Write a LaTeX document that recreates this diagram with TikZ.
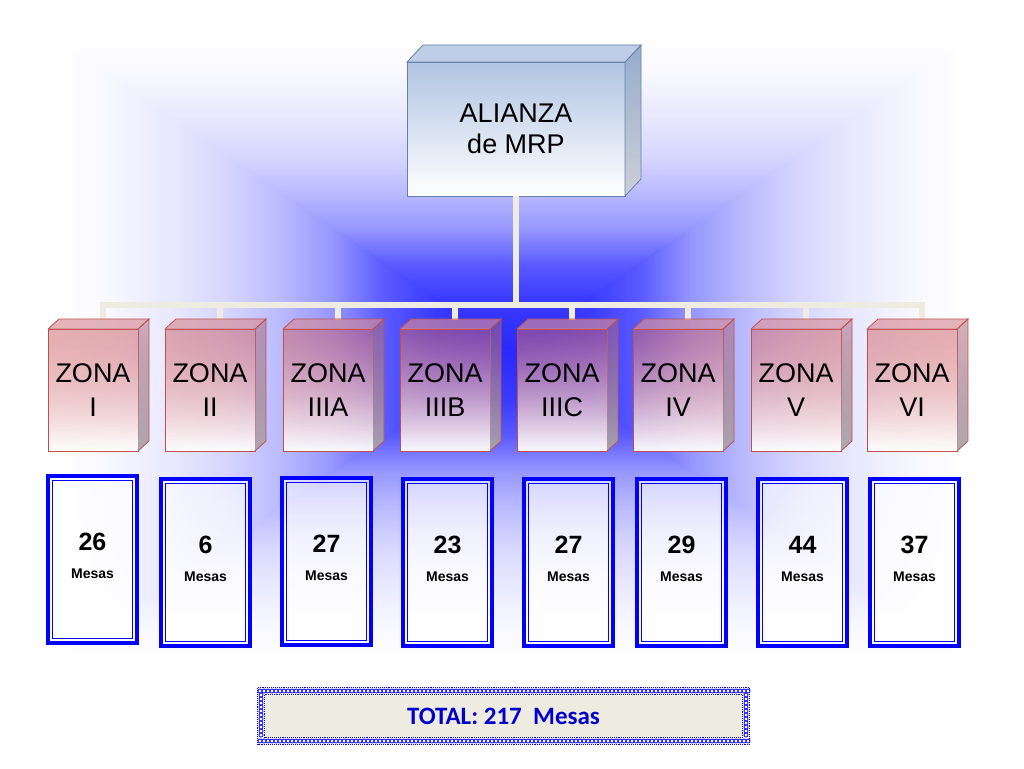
\documentclass[tikz,border=0pt]{standalone}
\usepackage{fontspec}
\setmainfont{Liberation Sans}
\newfontfamily\calib{Carlito}
\usetikzlibrary{calc,fadings}

\definecolor{gz}{RGB}{40,40,255}
\definecolor{ga}{RGB}{58,58,255}
\definecolor{gb}{RGB}{90,90,255}
\definecolor{gc}{RGB}{150,150,255}
\definecolor{gd}{RGB}{185,185,255}
\definecolor{ge}{RGB}{212,212,255}
\definecolor{gf}{RGB}{230,230,255}
\definecolor{gg}{RGB}{247,247,255}
\definecolor{zpink}{RGB}{205,95,100}
\definecolor{zsideA}{RGB}{170,100,120}
\definecolor{zsideB}{RGB}{170,165,170}
\definecolor{ztopc}{RGB}{215,140,150}
\definecolor{zborder}{RGB}{192,80,77}
\definecolor{topA}{RGB}{176,196,226}
\definecolor{tsideA}{RGB}{150,172,205}
\definecolor{tsideB}{RGB}{205,208,215}
\definecolor{ttopc}{RGB}{190,206,230}
\definecolor{tborder}{RGB}{100,128,170}
\definecolor{connc}{RGB}{238,236,225}
\definecolor{mblue}{RGB}{0,0,255}
\definecolor{totalfill}{RGB}{238,236,225}
\definecolor{totalblue}{RGB}{0,0,204}

\pgfdeclareverticalshading{bgtop}{100bp}{color(0bp)=(gz); color(25bp)=(gz); color(32.5bp)=(ga); color(37.5bp)=(gb); color(42.5bp)=(gc); color(47.5bp)=(gd); color(52.5bp)=(ge); color(57.5bp)=(gf); color(64bp)=(gg); color(69bp)=(white); color(100bp)=(white)}
\pgfdeclarehorizontalshading{bgright}{100bp}{color(0bp)=(gz); color(25bp)=(gz); color(32.5bp)=(ga); color(37.5bp)=(gb); color(42.5bp)=(gc); color(47.5bp)=(gd); color(52.5bp)=(ge); color(57.5bp)=(gf); color(64bp)=(gg); color(69bp)=(white); color(100bp)=(white)}
\pgfdeclareverticalshading{bgbot}{100bp}{color(0bp)=(white); color(31bp)=(white); color(36bp)=(gg); color(42.5bp)=(gf); color(47.5bp)=(ge); color(52.5bp)=(gd); color(57.5bp)=(gc); color(62.5bp)=(gb); color(67.5bp)=(ga); color(75bp)=(gz); color(100bp)=(gz)}
\pgfdeclarehorizontalshading{bgleft}{100bp}{color(0bp)=(white); color(31bp)=(white); color(36bp)=(gg); color(42.5bp)=(gf); color(47.5bp)=(ge); color(52.5bp)=(gd); color(57.5bp)=(gc); color(62.5bp)=(gb); color(67.5bp)=(ga); color(75bp)=(gz); color(100bp)=(gz)}

\tikzfading[name=zfade, top color=transparent!50, bottom color=transparent!5]
\tikzfading[name=mfade, top color=transparent!45, bottom color=transparent!0]

\tikzset{
  conn/.style={draw=connc, line width=6pt},
  topbox/.style={draw=tborder, line width=0.8pt, top color=topA, bottom color=white,
    minimum width=218pt, minimum height=134pt, inner sep=0pt, outer sep=0pt,
    align=center, font=\fontsize{27}{31}\selectfont},
  tside/.style={top color=tsideA, bottom color=tsideB, draw=tborder, line width=0.8pt},
  ttop/.style={fill=ttopc, draw=tborder, line width=0.8pt},
  zshade/.style={shade, top color=zpink, bottom color=white, path fading=zfade},
  zfront/.style={draw=zborder, line width=0.8pt, minimum width=90pt, minimum height=122pt,
    inner sep=0pt, outer sep=0pt, align=center, font=\fontsize{27}{34}\selectfont},
  zsideshade/.style={shade, top color=zsideA, bottom color=zsideB, path fading=zfade},
  ztopface/.style={fill=ztopc, fill opacity=0.65},
  zline/.style={draw=zborder, line width=0.8pt},
  mbox/.style={draw=mblue, line width=4pt, minimum width=89pt, minimum height=167pt,
    inner sep=0pt, outer sep=0pt},
  minner/.style={draw=mblue, line width=1.3pt},
  mnum/.style={font=\bfseries\fontsize{25}{25}\selectfont, inner sep=0pt},
  mlab/.style={font=\bfseries\fontsize{14}{14}\selectfont, inner sep=0pt},
  totalbox/.style={fill=totalfill, minimum width=477pt, minimum height=42pt, inner sep=0pt,
    outer sep=0pt, text=totalblue, font=\calib\bfseries\fontsize{25}{25}\selectfont},
  chain/.style={draw=mblue!85!white, line width=1pt},
  edgedots/.style={draw=mblue, line width=1.1pt, densely dotted}
}

\begin{document}
\begin{tikzpicture}[x=1pt,y=-1pt]
\useasboundingbox (0,0) rectangle (1024,768);
\fill[white] (0,0) rectangle (1024,768);

% background glow (rectangular path gradient), slightly overlapping pieces
\coordinate (bgc) at (512,350);
\shade[shading=bgtop] (-3,-1) -- (1027,-1) -- (512,353) -- cycle;
\shade[shading=bgbot] (-3,701) -- (1027,701) -- (512,347) -- cycle;
\shade[shading=bgleft] (0,0) -- (0,700) -- (bgc) -- cycle;
\shade[shading=bgright] (1024,0) -- (1024,700) -- (bgc) -- cycle;

% top box
\node[topbox] (alianza) at (516,129) {ALIANZA\\de MRP};
\path[tside] (alianza.north east) -- ++(16,-17) -- ($(alianza.south east)+(16,-17)$) -- (alianza.south east) -- cycle;
\path[ttop] (alianza.north west) -- ++(16,-17) -- ($(alianza.north east)+(16,-17)$) -- (alianza.north east) -- cycle;

% connectors
\coordinate (hub) at (516,305);
\foreach \L [count=\i] in {48,165,283,400,517,633,751,867}
  \coordinate (t\i) at (\L+55,320);
\draw[conn] (alianza.south) -- (hub);
\foreach \i in {1,...,8}
  \draw[conn] (hub) -| (t\i);

% zones
\foreach \L/\t [count=\i] in {48/I,165/II,283/IIIA,400/IIIB,517/IIIC,633/IV,751/V,867/VI} {
  \path[zshade] (\L,329) rectangle (\L+90,451);
  \node[zfront] (z\i) at (\L+45,390) {ZONA\\\t};
  \path[zsideshade] (z\i.north east) -- ++(11,-10) -- ($(z\i.south east)+(11,-10)$) -- (z\i.south east) -- cycle;
  \path[zline] (z\i.north east) -- ++(11,-10) -- ($(z\i.south east)+(11,-10)$) -- (z\i.south east);
  \path[ztopface] (z\i.north west) -- ++(11,-10) -- ($(z\i.north east)+(11,-10)$) -- (z\i.north east) -- cycle;
  \path[zline] (z\i.north west) -- ++(11,-10) -- ($(z\i.north east)+(11,-10)$) -- (z\i.north east);
}

% mesas boxes
\foreach \mx/\my/\n [count=\i] in {92.5/559.5/26, 205.5/562.5/6, 326.5/561.5/27, 447.5/562.5/23, 568.5/562.5/27, 681.5/562.5/29, 802.5/562.5/44, 914.5/562.5/37} {
  \path[fill=white, path fading=mfade] (\mx-44.5,\my-83.5) rectangle (\mx+44.5,\my+83.5);
  \node[mbox] (m\i) at (\mx,\my) {};
  \path[minner] ($(m\i.north west)+(4.2,4.2)$) rectangle ($(m\i.south east)+(-4.2,-4.2)$);
  \node[mnum, anchor=base] (n\i) at ($(m\i.north)+(0,74)$) {\n};
  \node[mlab, anchor=base] (l\i) at ($(m\i.north)+(0,102)$) {Mesas};
}

% total
\node[totalbox] (total) at (503.5,716) {TOTAL: 217\ \ Mesas};
\path[fill=white, even odd rule] ($(total.north west)+(-8,-8)$) rectangle ($(total.south east)+(8,8)$)
  (total.north west) rectangle (total.south east);
\foreach \cx in {260,264,...,748} {
  \path[chain] (\cx,691) circle (2);
  \path[chain] (\cx,741) circle (2);
}
\foreach \cy in {695,699,...,737} {
  \path[chain] (261,\cy) circle (2);
  \path[chain] (746,\cy) circle (2);
}
\path[edgedots] ($(total.north west)+(-7.5,-7.5)$) rectangle ($(total.south east)+(7.5,7.5)$);
\path[edgedots] ($(total.north west)+(-0.5,-0.5)$) rectangle ($(total.south east)+(0.5,0.5)$);
\end{tikzpicture}
\end{document}
